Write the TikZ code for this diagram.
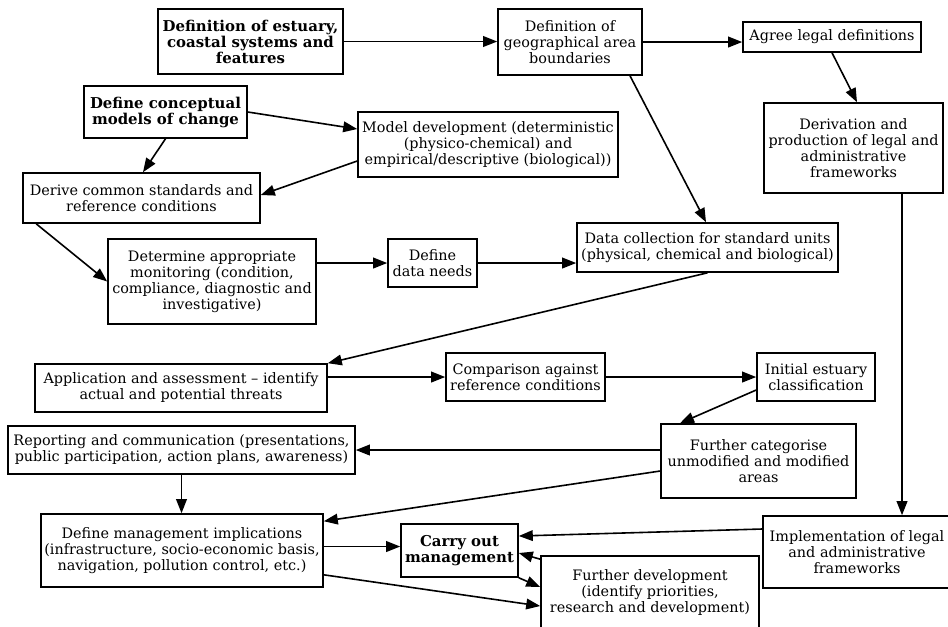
\documentclass[tikz,border=0pt]{standalone}
\usepackage{fontspec}
\setmainfont{DejaVu Serif}
\usetikzlibrary{arrows.meta,calc}
\tikzset{
  box/.style={draw, line width=1.2pt, align=center, inner sep=1pt,
    font=\fontsize{10.8}{12}\selectfont},
  bbox/.style={box, font=\fontsize{11.2}{12}\selectfont\bfseries},
  conn/.style={line width=1.2pt, -{Triangle[length=10.5pt,width=8pt]}},
}
\begin{document}
\begin{tikzpicture}[x=0.75pt,y=-0.75pt]
\clip (0,0) rectangle (948,626);
\node[bbox, minimum width=138.75pt, minimum height=48.75pt] (est) at (250.5,41.5) {Definition of estuary,\\coastal systems and\\features};
\node[box, minimum width=108pt, minimum height=49.5pt] (geo) at (570,42) {Definition of\\geographical area\\boundaries};
\node[box, minimum width=133.5pt, minimum height=22.5pt] (agree) at (832,37) {Agree legal definitions};
\node[box, minimum width=134.25pt, minimum height=67.5pt] (deriv) at (853.5,148) {Derivation and\\production of legal and\\administrative\\frameworks};
\node[bbox, minimum width=122.25pt, minimum height=39pt] (concept) at (165.5,112) {Define conceptual\\models of change};
\node[box, minimum width=195pt, minimum height=48.75pt] (model) at (488,144.5) {Model development (deterministic\\(physico-chemical) and\\empirical/descriptive (biological))};
\node[box, minimum width=177.75pt, minimum height=37.5pt] (common) at (141.5,198) {Derive common standards and\\reference conditions};
\node[box, minimum width=156pt, minimum height=63.75pt] (monitor) at (212,281.5) {Determine appropriate\\monitoring (condition,\\compliance, diagnostic and\\investigative)};
\node[box, minimum width=66.75pt, minimum height=36pt] (needs) at (432.5,263) {Define\\data needs};
\node[box, minimum width=195.75pt, minimum height=36.75pt] (datacoll) at (707.5,247.5) {Data collection for standard units\\(physical, chemical and biological)};
\node[box, minimum width=219pt, minimum height=36pt] (appl) at (181,388) {Application and assessment -- identify\\actual and potential threats};
\node[box, minimum width=119.25pt, minimum height=36pt] (comp) at (525.5,377) {Comparison against\\reference conditions};
\node[box, minimum width=88.5pt, minimum height=36pt] (initial) at (816,377) {Initial estuary\\classification};
\node[box, minimum width=260.25pt, minimum height=36pt] (report) at (181.5,450) {Reporting and communication (presentations,\\public participation, action plans, awareness)};
\node[box, minimum width=146.25pt, minimum height=55.5pt] (categ) at (758.5,461) {Further categorise\\unmodified and modified\\areas};
\node[box, minimum width=211.5pt, minimum height=54.75pt] (mgmt) at (182,550.5) {Define management implications\\(infrastructure, socio-economic basis,\\navigation, pollution control, etc.)};
\node[bbox, minimum width=87.75pt, minimum height=39.75pt] (carry) at (459.5,550.5) {Carry out\\management};
\node[box, minimum width=163.5pt, minimum height=55.5pt] (fdev) at (650,593) {Further development\\(identify priorities,\\research and development)};
\node[box, minimum width=141pt, minimum height=54pt] (impl) at (857,552) {Implementation of legal\\and administrative\\frameworks};

\draw[conn] (est.east) -- (est.east -| geo.west);
\draw[conn] (geo.east) -- (geo.east -| agree.west);
\draw[conn] (agree.south) -- ($(deriv.north)+(3.5,0)$);
\draw[conn] ($(geo.south)+(60,0)$) -- ($(datacoll.north)+(-1.5,0)$);
\draw[conn] (concept.east) -- ($(model.west)+(0,-15.5)$);
\draw[conn] (concept.south) -- ($(common.north)+(1.5,0)$);
\draw[conn] ($(model.west)+(0,16.5)$) -- ($(common.east)+(0,-3)$);
\draw[conn] ($(common.south west)+(14,0)$) -- (monitor.west);
\draw[conn] (needs.west -| monitor.east) -- (needs.west);
\draw[conn] (needs.east) -- (needs.east -| datacoll.west);
\draw[conn] (datacoll.south) -- (appl.north east);
\draw[conn] (comp.west -| appl.east) -- (comp.west);
\draw[conn] (comp.east) -- (initial.west);
\draw[conn] ($(initial.west)+(0,13)$) -- ($(categ.north)+(-78.5,0)$);
\draw[conn] ($(categ.west)+(0,-11)$) -- (report.east);
\draw[conn] (report.south) -- (report.south |- mgmt.north);
\draw[conn] ($(categ.west)+(0,10)$) -- ($(mgmt.north east)+(0,8)$);
\draw[conn] ($(mgmt.east)+(0,-4)$) -- ($(carry.west)+(0,-4)$);
\draw[conn] ($(mgmt.south east)+(0,-13)$) -- ($(fdev.west)+(0,13)$);
\draw[conn] (carry.south east) -- ($(fdev.west)+(0,-6)$);
\draw[conn] ($(fdev.north west)+(0,4)$) -- ($(carry.east)+(0,2.5)$);
\draw[conn] ($(impl.west)+(0,-23)$) -- ($(carry.east)+(0,-14.5)$);
\draw[conn] ($(deriv.south)+(48.5,0)$) -- ($(impl.north)+(45,0)$);
\end{tikzpicture}
\end{document}
